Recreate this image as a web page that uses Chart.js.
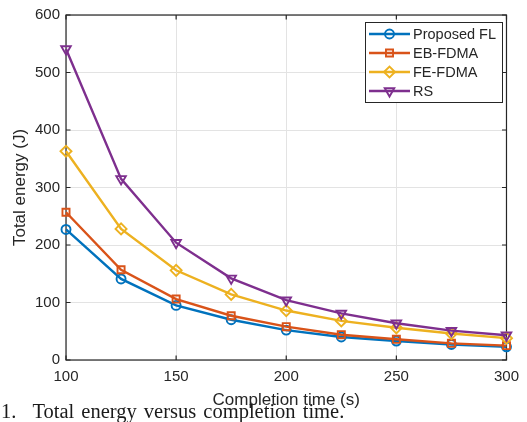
<!DOCTYPE html>
<html>
<head>
<meta charset="utf-8">
<script src="https://cdn.jsdelivr.net/npm/chart.js@4.4.1/dist/chart.umd.min.js"></script>
<style>
  html, body { margin: 0; padding: 0; background: #fff; }
  #wrap { position: relative; width: 527px; height: 422px; overflow: hidden; }
  #chart { position: absolute; left: 0; top: 0; }
  #caption {
    position: absolute; left: 1px; top: 399px;
    font-family: "Liberation Serif", "Times New Roman", serif;
    font-size: 20.5px; line-height: 24px; color: #1a1a1a;
    white-space: pre; word-spacing: 2px;
  }
  #caption .body { margin-left: 16px; }
</style>
</head>
<body>
<div id="wrap">
  <canvas id="chart" width="527" height="422"></canvas>
  <div id="caption"><span>1.</span><span class="body">Total energy versus completion time.</span></div>
</div>
<script>
// Completion time (s)
const completionTimes = [100, 125, 150, 175, 200, 225, 250, 275, 300];

// Total energy (J) for each scheme
const proposedFL = [227, 141, 95, 70, 52, 40, 33, 27, 23];
const ebFDMA     = [257, 157, 106, 77, 58, 44, 36, 29, 25];
const feFDMA     = [363, 228, 156, 114, 86, 68, 56, 46, 38];
const rsScheme   = [541, 315, 204, 142, 104, 81, 64, 51, 43];

const seriesLabels = ['Proposed FL', 'EB-FDMA', 'FE-FDMA', 'RS'];

const xTicks = [100, 150, 200, 250, 300];
const yTicks = [0, 100, 200, 300, 400, 500, 600];

const axisColor = '#262626';
const gridColor = '#e3e3e3';
const sansFont = '"Liberation Sans", Arial, Helvetica, sans-serif';

function series(label, values, color, style, rotation, radius, order) {
  return {
    label,
    data: completionTimes.map((t, i) => ({ x: t, y: values[i] })),
    borderColor: color,
    backgroundColor: color,
    borderWidth: 2.4,
    pointStyle: style,
    rotation: rotation,
    pointRadius: radius,
    pointHoverRadius: radius,
    pointBorderWidth: 1.9,
    pointBorderColor: color,
    pointBackgroundColor: 'rgba(0,0,0,0)',
    tension: 0,
    clip: false,
    order
  };
}

const datasets = [
  series(seriesLabels[0], proposedFL, '#0072BD', 'circle', 0, 4.5, 4),
  series(seriesLabels[1], ebFDMA, '#D95319', 'rect', 0, 5, 3),
  series(seriesLabels[2], feFDMA, '#EDB120', 'rectRot', 0, 5.5, 2),
  series(seriesLabels[3], rsScheme, '#7E2F8E', 'triangle', 180, 5.5, 1)
];

// Box around the plot area with inward tick marks on all four sides
const boxPlugin = {
  id: 'axesBox',
  beforeDatasetsDraw(chart) {
    const { ctx, chartArea: a, scales: { x, y } } = chart;
    const tl = 4.5;
    ctx.save();
    ctx.strokeStyle = axisColor;
    ctx.lineWidth = 1.2;
    ctx.strokeRect(a.left, a.top, a.right - a.left, a.bottom - a.top);
    ctx.beginPath();
    xTicks.forEach(v => {
      const px = x.getPixelForValue(v);
      ctx.moveTo(px, a.bottom); ctx.lineTo(px, a.bottom - tl);
      ctx.moveTo(px, a.top); ctx.lineTo(px, a.top + tl);
    });
    yTicks.forEach(v => {
      const py = y.getPixelForValue(v);
      ctx.moveTo(a.left, py); ctx.lineTo(a.left + tl, py);
      ctx.moveTo(a.right, py); ctx.lineTo(a.right - tl, py);
    });
    ctx.stroke();
    ctx.restore();
  }
};

// Legend box in the upper right corner
const legendPlugin = {
  id: 'boxLegend',
  afterDatasetsDraw(chart) {
    const { ctx } = chart;
    const bx = 365, by = 22, bw = 137, bh = 80;
    const rowY0 = 34, rowStep = 19;
    ctx.save();
    ctx.fillStyle = '#fff';
    ctx.fillRect(bx, by, bw, bh);
    ctx.strokeStyle = axisColor;
    ctx.lineWidth = 1;
    ctx.strokeRect(bx + 0.5, by + 0.5, bw, bh);
    ctx.font = '14.5px ' + sansFont;
    ctx.textBaseline = 'middle';
    ctx.textAlign = 'left';
    chart.data.datasets.forEach((ds, i) => {
      const yy = rowY0 + i * rowStep;
      ctx.strokeStyle = ds.borderColor;
      ctx.lineWidth = ds.borderWidth;
      ctx.beginPath();
      ctx.moveTo(369, yy); ctx.lineTo(410, yy);
      ctx.stroke();
      ctx.lineWidth = ds.pointBorderWidth;
      ctx.fillStyle = 'rgba(0,0,0,0)';
      Chart.helpers.drawPoint(ctx, {
        pointStyle: ds.pointStyle,
        rotation: ds.rotation,
        radius: ds.pointRadius,
        borderWidth: ds.pointBorderWidth
      }, 389.5, yy);
      ctx.fillStyle = axisColor;
      ctx.fillText(ds.label, 413, yy + 1);
    });
    ctx.restore();
  }
};

new Chart(document.getElementById('chart'), {
  type: 'line',
  data: { datasets },
  options: {
    responsive: false,
    animation: false,
    devicePixelRatio: 1,
    layout: { padding: { left: 0, right: 16, top: 13, bottom: 0 } },
    plugins: { legend: { display: false }, tooltip: { enabled: false } },
    scales: {
      x: {
        type: 'linear',
        min: 100, max: 300,
        afterFit(s) { s.height = 62; },
        afterBuildTicks(s) { s.ticks = xTicks.map(v => ({ value: v })); },
        ticks: { color: axisColor, font: { size: 15, family: sansFont }, padding: 8, maxRotation: 0 },
        grid: { color: gridColor, lineWidth: 1, drawTicks: false },
        border: { display: false },
        title: {
          display: true, text: 'Completion time (s)', color: axisColor,
          font: { size: 17, family: sansFont }, padding: { top: 0, bottom: 11 }
        }
      },
      y: {
        min: 0, max: 600,
        afterFit(s) { s.width = 66; },
        afterBuildTicks(s) { s.ticks = yTicks.map(v => ({ value: v })); },
        ticks: { color: axisColor, font: { size: 15, family: sansFont }, padding: 6 },
        grid: { color: gridColor, lineWidth: 1, drawTicks: false },
        border: { display: false },
        title: {
          display: true, text: 'Total energy (J)', color: axisColor,
          font: { size: 17, family: sansFont }, padding: { top: 10, bottom: 0 }
        }
      }
    }
  },
  plugins: [boxPlugin, legendPlugin]
});
</script>
</body>
</html>
